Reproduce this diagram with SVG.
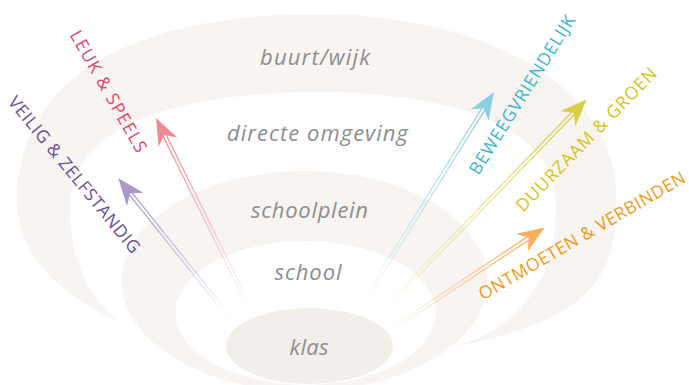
<svg xmlns="http://www.w3.org/2000/svg" width="689" height="385" viewBox="0 0 689 385">
<style>
.ring{fill:#f7f4f1}
.inner{fill:#ffffff}
.klas{fill:#f2efea}
.zone{font-family:"Open Sans","Liberation Sans",sans-serif;font-style:italic;font-size:22px;fill:#8e8e8e;text-anchor:middle}
.lbl{font-family:"Open Sans","Liberation Sans",sans-serif;font-size:17.5px;text-anchor:middle}
.shaft{fill:none;stroke-width:1.3}
</style>
<defs>
<linearGradient id="gPurple" x1="0" y1="0" x2="1" y2="0"><stop offset="0" stop-color="#a898cc" stop-opacity="0"/><stop offset="1" stop-color="#a898cc" stop-opacity="1"/></linearGradient>
<linearGradient id="gPink" x1="0" y1="0" x2="1" y2="0"><stop offset="0" stop-color="#f28a96" stop-opacity="0"/><stop offset="1" stop-color="#f28a96" stop-opacity="1"/></linearGradient>
<linearGradient id="gBlue" x1="0" y1="0" x2="1" y2="0"><stop offset="0" stop-color="#8bcfe0" stop-opacity="0"/><stop offset="1" stop-color="#8bcfe0" stop-opacity="1"/></linearGradient>
<linearGradient id="gYellow" x1="0" y1="0" x2="1" y2="0"><stop offset="0" stop-color="#d9cf4a" stop-opacity="0"/><stop offset="1" stop-color="#d9cf4a" stop-opacity="1"/></linearGradient>
<linearGradient id="gOrange" x1="0" y1="0" x2="1" y2="0"><stop offset="0" stop-color="#f7b060" stop-opacity="0"/><stop offset="1" stop-color="#f7b060" stop-opacity="1"/></linearGradient>
<path id="head" d="M0,0 L-27,-10.5 L-19,0 L-27,10.5 Z"/>
</defs>
<rect width="689" height="385" fill="#ffffff"/>

<g id="buurt-wijk">
<path class="ring" d="M118,321 C60,295 17,255 17,200 C17,80 130,14 316,14 C490,14 616,90 616,195 C618,280 590,320 453,347 C520,328 556,280 556,205 C556,118 432,92 316,92 C200,92 70,118 70,205 C70,260 90,300 118,321 Z"/>
<text class="zone" x="315" y="65" textLength="110">buurt/wijk</text>
</g>
<g id="directe-omgeving">
<text class="zone" x="317.5" y="141" textLength="181">directe omgeving</text>
</g>
<g id="schoolplein">
<ellipse class="ring" cx="304.5" cy="281" rx="183" ry="110"/>
<text class="zone" x="309.5" y="218" textLength="117">schoolplein</text>
</g>
<g id="school">
<ellipse class="inner" cx="305.5" cy="313" rx="130" ry="72"/>
<text class="zone" x="308" y="280" textLength="67">school</text>
</g>
<g id="klas">
<ellipse class="klas" cx="309.5" cy="346" rx="83.5" ry="38"/>
<text class="zone" x="309" y="355" textLength="39">klas</text>
</g>

<g id="connectors">
<g id="arrow-veilig" transform="translate(118.3,178.3) rotate(-128.7)">
<path class="shaft" stroke="url(#gPurple)" d="M-179,-1.7H-19M-179,1.7H-19"/>
<use href="#head" fill="#a898cc"/>
</g>
<g id="arrow-leuk" transform="translate(156,118) rotate(-116.3)">
<path class="shaft" stroke="url(#gPink)" d="M-208,-1.7H-19M-208,1.7H-19"/>
<use href="#head" fill="#f28a96"/>
</g>
<g id="arrow-beweeg" transform="translate(494,92) rotate(-58.1)">
<path class="shaft" stroke="url(#gBlue)" d="M-247,-1.7H-19M-247,1.7H-19"/>
<use href="#head" fill="#8bcfe0"/>
</g>
<g id="arrow-duurzaam" transform="translate(586.7,99.2) rotate(-46)">
<path class="shaft" stroke="url(#gYellow)" d="M-297,-1.7H-19M-297,1.7H-19"/>
<use href="#head" fill="#d9cf4a"/>
</g>
<g id="arrow-ontmoeten" transform="translate(544.5,227.5) rotate(-33.6)">
<path class="shaft" stroke="url(#gOrange)" d="M-185,-1.7H-19M-185,1.7H-19"/>
<use href="#head" fill="#f7b060"/>
</g>
</g>

<g id="label-veilig"><text class="lbl" fill="#6c4f9e" transform="translate(69.7,178.5) rotate(50.7)" textLength="197">VEILIG &amp; ZELFSTANDIG</text></g>
<g id="label-leuk"><text class="lbl" fill="#e5436d" transform="translate(103.2,94.2) rotate(60.4)" textLength="137">LEUK &amp; SPEELS</text></g>
<g id="label-beweeg"><text class="lbl" fill="#3db6cf" transform="translate(527.2,97.9) rotate(-58)" textLength="184">BEWEEGVRIENDELIJK</text></g>
<g id="label-duurzaam"><text class="lbl" fill="#d6c51a" transform="translate(590.6,143.8) rotate(-45.7)" textLength="193">DUURZAAM &amp; GROEN</text></g>
<g id="label-ontmoeten"><text class="lbl" fill="#f39a1a" transform="translate(585,241) rotate(-30.3)" textLength="236">ONTMOETEN &amp; VERBINDEN</text></g>
</svg>
